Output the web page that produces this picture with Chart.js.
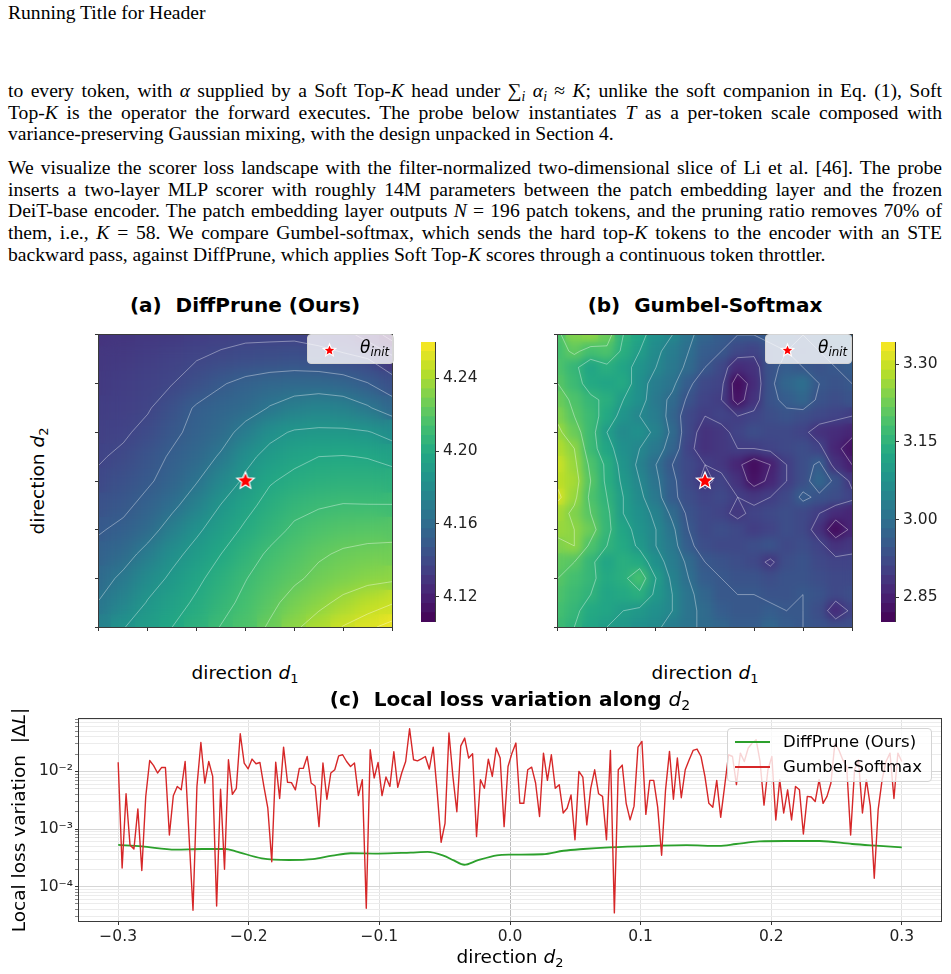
<!DOCTYPE html>
<html>
<head>
<meta charset="utf-8">
<title>Scorer loss landscape</title>
<script src="https://cdn.jsdelivr.net/npm/chart.js@4.4.1/dist/chart.umd.min.js"></script>
<style>
  body { margin: 0; background: #fff; }
  #page { position: relative; width: 951px; height: 974px; overflow: hidden; }
  .para { position: absolute; left: 8px; width: 934px; font-family: "Liberation Serif", "Times New Roman", serif; font-size: 19.6px; line-height: 21.7px; color: #000; }
  .j { text-align: justify; text-align-last: justify; }
  .sb { font-size: 70%; vertical-align: -0.28em; line-height: 0; }
  canvas { position: absolute; }
  .lbl { position: absolute; font-family: "DejaVu Sans", sans-serif; color: #000; white-space: nowrap; line-height: 22px; }
  .ttl { font-weight: bold; font-size: 20px; text-align: center; width: 440px; }
  .ttl .m { font-weight: normal; }
  .ax { font-size: 18.5px; text-align: center; width: 300px; }
  .rot { transform: translate(-50%, -50%) rotate(-90deg); }
  .leg { position: absolute; background: rgba(255,255,255,0.8); border: 1px solid #d4d4d4; border-radius: 4px; box-sizing: border-box; font-family: "DejaVu Sans", sans-serif; color: #000; }
  .leg div { position: absolute; white-space: nowrap; }
</style>
</head>
<body>
<div id="page">
  <div class="para" style="top:1.5px">Running Title for Header</div>

  <div class="para" style="top:79.8px">
    <div class="j">to every token, with <i>α</i> supplied by a Soft Top-<i>K</i> head under ∑<span class="sb"><i>i</i></span> <i>α</i><span class="sb"><i>i</i></span> ≈ <i>K</i>; unlike the soft companion in Eq. (1), Soft</div>
    <div class="j">Top-<i>K</i> is the operator the forward executes. The probe below instantiates <i>T</i> as a per-token scale composed with</div>
    <div>variance-preserving Gaussian mixing, with the design unpacked in Section 4.</div>
  </div>

  <div class="para" style="top:156.8px">
    <div class="j">We visualize the scorer loss landscape with the filter-normalized two-dimensional slice of Li et al. [46]. The probe</div>
    <div class="j">inserts a two-layer MLP scorer with roughly 14M parameters between the patch embedding layer and the frozen</div>
    <div class="j">DeiT-base encoder. The patch embedding layer outputs <i>N</i> = 196 patch tokens, and the pruning ratio removes 70% of</div>
    <div class="j">them, i.e., <i>K</i> = 58. We compare Gumbel-softmax, which sends the hard top-<i>K</i> tokens to the encoder with an STE</div>
    <div>backward pass, against DiffPrune, which applies Soft Top-<i>K</i> scores through a continuous token throttler.</div>
  </div>

  <canvas id="heatA" width="323" height="322" style="left:84px; top:320px"></canvas>
  <canvas id="barA" width="64" height="280" style="left:421px; top:342px"></canvas>
  <canvas id="heatB" width="324" height="322" style="left:543px; top:320px"></canvas>
  <canvas id="barB" width="64" height="280" style="left:881px; top:342px"></canvas>
  <canvas id="lossC" width="951" height="274" style="left:0px; top:700px"></canvas>

  <div class="lbl ttl" style="left:25px; top:294px">(a)&nbsp; DiffPrune (Ours)</div>
  <div class="lbl ttl" style="left:485px; top:294px">(b)&nbsp; Gumbel-Softmax</div>
  <div class="lbl ax" style="left:95px; top:662px">direction <i>d</i><span class="sb">1</span></div>
  <div class="lbl ax" style="left:555px; top:662px">direction <i>d</i><span class="sb">1</span></div>
  <div class="lbl ax rot" style="left:38px; top:481px">direction <i>d</i><span class="sb">2</span></div>

  <div class="leg" id="legA" style="left:307px; top:334px; width:87px; height:30px">
    <div style="left:52px; top:2px; font-size:17px"><i>θ</i><span class="sb"><i>init</i></span></div>
  </div>
  <div class="leg" id="legB" style="left:765px; top:334px; width:87px; height:30px">
    <div style="left:52px; top:2px; font-size:17px"><i>θ</i><span class="sb"><i>init</i></span></div>
  </div>

  <div class="lbl ttl" style="left:290px; top:688px">(c)&nbsp; Local loss variation along <span class="m"><i>d</i><span class="sb">2</span></span></div>
  <div class="lbl ax" style="left:360px; top:946px">direction <i>d</i><span class="sb">2</span></div>
  <div class="lbl ax rot" style="left:19px; top:820px">Local loss variation&nbsp; |Δ<i>L</i>|</div>

  <div class="leg" style="left:727px; top:728px; width:205px; height:54px">
    <div style="left:7px; top:12px; width:35px; height:2px; background:#2ca02c"></div>
    <div style="left:55px; top:2px; font-size:16.5px; line-height:22px">DiffPrune (Ours)</div>
    <div style="left:7px; top:37px; width:35px; height:2px; background:#d62728"></div>
    <div style="left:55px; top:27px; font-size:16.5px; line-height:22px">Gumbel-Softmax</div>
  </div>
</div>

<script>
// ---------------- data ----------------
// panel (c): |dL| along d2
const d2Ticks = [-0.3, -0.2, -0.1, 0, 0.1, 0.2, 0.3];
const decadeTicks = [1e-4, 1e-3, 1e-2];

const gumbelDelta = [
  0.0145, 0.00021, 0.0041, 0.00053, 0.00045, 0.00224, 0.00019, 0.00368, 0.0155, 0.0126,
  0.0094, 0.0117, 0.0117, 0.00079, 0.00378, 0.00548, 0.0048, 0.0149, 0.00074, 0.000039,
  0.00548, 0.0319, 0.00627, 0.0149, 0.0082, 0.000046, 0.0049, 0.0002, 0.016, 0.004,
  0.0051, 0.0452, 0.014, 0.0111, 0.0164, 0.0136, 0.0143, 0.0055, 0.0023, 0.00027,
  0.0145, 0.0034, 0.0265, 0.0065, 0.0064, 0.0048, 0.0113, 0.0113, 0.0182, 0.0063,
  0.0056, 0.0011, 0.014, 0.0033, 0.0094, 0.0107, 0.0187, 0.0195, 0.0149, 0.0122,
  0.014, 0.0038, 0.0072, 0.000042, 0.0238, 0.0077, 0.0143, 0.0038, 0.008, 0.0055,
  0.022, 0.0053, 0.0094, 0.0149, 0.0552, 0.016, 0.0153, 0.0166, 0.0182, 0.011,
  0.0265, 0.0045, 0.00059, 0.00126, 0.0465, 0.0082, 0.002, 0.0279, 0.038, 0.0171,
  0.0203, 0.00074, 0.0072, 0.0051, 0.0164, 0.0082, 0.0255, 0.0171, 0.0011, 0.0122,
  0.0208, 0.0311, 0.0028, 0.0028, 0.0107, 0.0119, 0.0063, 0.00165, 0.0208, 0.007,
  0.0195, 0.0051, 0.0059, 0.0019, 0.0023, 0.0039, 0.00065, 0.01, 0.008, 0.00118,
  0.0051, 0.0107, 0.0041, 0.0037, 0.00065, 0.0232, 0.000035, 0.0107, 0.0129, 0.0028,
  0.00144, 0.0025, 0.0265, 0.0333, 0.0018, 0.007, 0.007, 0.0024, 0.00035, 0.0048,
  0.0223, 0.0033, 0.0171, 0.0035, 0.0107, 0.016, 0.0232, 0.0245, 0.0182, 0.0082,
  0.0028, 0.0024, 0.007, 0.0016, 0.0055, 0.0195, 0.0182, 0.0059, 0.0208, 0.0149,
  0.0255, 0.0311, 0.0356, 0.0149, 0.0026, 0.0107, 0.0182, 0.00144, 0.0072, 0.0019,
  0.0048, 0.00144, 0.0055, 0.0048, 0.00082, 0.0037, 0.0036, 0.003, 0.0072, 0.0028,
  0.0037, 0.0063, 0.0311, 0.0238, 0.016, 0.0122, 0.00079, 0.0107, 0.016, 0.0019,
  0.0072, 0.0025, 0.00014, 0.0022, 0.0072, 0.0149, 0.0208, 0.0034, 0.0208, 0.0149
];
// samples are evenly spaced on [-0.3, 0.3]
const gumbelD2 = gumbelDelta.map((_, i) => -0.3 + 0.6 * i / (gumbelDelta.length - 1));

const diffD2 = [-0.300, -0.282, -0.256, -0.236, -0.218, -0.210, -0.190, -0.169, -0.151, -0.136,
  -0.122, -0.101, -0.076, -0.063, -0.051, -0.043, -0.035, -0.025, -0.010, 0.000,
  0.025, 0.041, 0.056, 0.076, 0.109, 0.135, 0.160, 0.173, 0.191, 0.211,
  0.237, 0.262, 0.283, 0.300];
const diffDelta = [5.3e-4, 5.0e-4, 4.4e-4, 4.5e-4, 4.5e-4, 4.1e-4, 3.1e-4, 2.9e-4, 3.0e-4, 3.45e-4,
  3.8e-4, 3.75e-4, 3.9e-4, 4.0e-4, 3.45e-4, 2.85e-4, 2.4e-4, 2.85e-4, 3.5e-4, 3.6e-4,
  3.65e-4, 4.2e-4, 4.5e-4, 4.8e-4, 5.1e-4, 5.25e-4, 5.1e-4, 5.5e-4, 6.1e-4, 6.2e-4,
  6.2e-4, 5.5e-4, 5.1e-4, 4.8e-4];

// panel (a): loss on a 13x13 grid over (d1, d2), rows from top (d2 = +1) to bottom
const diffGrid = [
  [4.129,4.130,4.131,4.132,4.134,4.135,4.136,4.136,4.136,4.134,4.130,4.121,4.108],
  [4.131,4.132,4.134,4.136,4.1377,4.140,4.142,4.143,4.144,4.143,4.141,4.1385,4.129],
  [4.132,4.134,4.136,4.1378,4.143,4.1495,4.154,4.157,4.158,4.158,4.156,4.151,4.1434],
  [4.134,4.135,4.137,4.144,4.152,4.156,4.159,4.1658,4.1717,4.175,4.1733,4.1667,4.157],
  [4.1354,4.1365,4.141,4.148,4.154,4.1595,4.170,4.1817,4.187,4.188,4.188,4.1865,4.1807],
  [4.137,4.140,4.146,4.152,4.158,4.1667,4.1817,4.190,4.195,4.198,4.1985,4.1975,4.1944],
  [4.1399,4.144,4.149,4.155,4.1642,4.1767,4.188,4.197,4.201,4.203,4.204,4.204,4.2032],
  [4.1446,4.148,4.154,4.1617,4.1733,4.186,4.1945,4.202,4.207,4.2095,4.211,4.2108,4.2108],
  [4.1495,4.153,4.159,4.1717,4.1833,4.192,4.200,4.206,4.2125,4.216,4.218,4.219,4.2191],
  [4.1541,4.159,4.170,4.1817,4.190,4.198,4.205,4.2125,4.217,4.2215,4.2245,4.226,4.2266],
  [4.1588,4.1683,4.1792,4.188,4.1955,4.203,4.210,4.2165,4.221,4.226,4.2295,4.232,4.2336],
  [4.1657,4.175,4.1865,4.193,4.200,4.2065,4.2135,4.220,4.2275,4.2325,4.2385,4.244,4.2475],
  [4.1733,4.185,4.191,4.198,4.204,4.211,4.2165,4.2245,4.2335,4.241,4.2485,4.2526,4.256]
];

// panel (b): loss on a 19x19 grid
const gumbelGrid = [
  [3.19,3.24,3.25,3.22,3.15,3.12,3.07,3.05,3.01,2.98,2.96,2.95,2.95,2.96,2.96,2.95,2.96,2.98,2.98],
  [3.18,3.21,3.18,3.19,3.14,3.10,3.06,3.03,3.00,2.96,2.95,2.92,2.91,2.94,2.95,2.94,2.95,2.96,2.98],
  [3.19,3.16,3.12,3.14,3.12,3.08,3.05,3.02,2.99,2.95,2.92,2.87,2.88,2.94,2.96,2.95,2.94,2.95,2.96],
  [3.20,3.17,3.13,3.12,3.13,3.07,3.03,3.01,2.96,2.92,2.91,2.82,2.87,2.94,2.98,3.00,2.95,2.94,2.95],
  [3.22,3.19,3.16,3.14,3.10,3.07,3.02,2.99,2.94,2.91,2.90,2.83,2.88,2.94,2.96,2.98,2.94,2.93,2.94],
  [3.24,3.20,3.17,3.13,3.08,3.05,3.03,2.98,2.92,2.90,2.91,2.90,2.91,2.93,2.94,2.93,2.92,2.91,2.90],
  [3.26,3.22,3.17,3.10,3.06,3.07,3.04,2.99,2.92,2.88,2.89,2.91,2.93,2.92,2.92,2.91,2.88,2.87,2.86],
  [3.28,3.25,3.17,3.12,3.07,3.05,3.02,2.98,2.91,2.88,2.89,2.90,2.90,2.91,2.92,2.93,2.91,2.86,2.83],
  [3.30,3.26,3.19,3.14,3.08,3.04,3.00,2.95,2.92,2.90,2.89,2.86,2.82,2.85,2.90,2.93,2.96,2.88,2.85],
  [3.29,3.27,3.20,3.14,3.09,3.05,3.01,2.96,2.92,2.89,2.91,2.88,2.83,2.86,2.90,2.93,2.98,2.94,2.89],
  [3.31,3.26,3.19,3.15,3.10,3.06,3.02,2.96,2.93,2.91,2.92,2.90,2.89,2.90,2.92,2.96,2.94,2.93,2.91],
  [3.27,3.24,3.20,3.16,3.10,3.07,3.04,2.99,2.94,2.92,2.91,2.89,2.91,2.92,2.93,2.92,2.90,2.87,2.86],
  [3.26,3.25,3.22,3.16,3.12,3.08,3.05,3.01,2.95,2.92,2.93,2.92,2.90,2.91,2.93,2.92,2.88,2.82,2.86],
  [3.24,3.25,3.19,3.15,3.13,3.09,3.05,3.02,2.96,2.93,2.92,2.92,2.93,2.94,2.92,2.93,2.91,2.88,2.89],
  [3.21,3.20,3.16,3.12,3.14,3.13,3.07,3.03,2.99,2.95,2.94,2.93,2.92,2.89,2.93,2.94,2.92,2.91,2.91],
  [3.20,3.18,3.16,3.13,3.14,3.18,3.10,3.04,3.00,2.96,2.95,2.94,2.94,2.93,2.94,2.94,2.93,2.92,2.92],
  [3.19,3.17,3.15,3.12,3.13,3.14,3.09,3.05,3.01,2.98,2.95,2.95,2.95,2.94,2.94,2.95,2.94,2.92,2.93],
  [3.18,3.16,3.13,3.12,3.10,3.09,3.07,3.05,3.01,2.99,2.96,2.95,2.95,2.96,2.95,2.95,2.93,2.87,2.91],
  [3.17,3.15,3.12,3.10,3.09,3.07,3.06,3.03,3.01,2.99,2.98,2.96,2.96,2.98,2.96,2.95,2.94,2.93,2.93]
];

const cbRangeA = [4.106, 4.260];
const cbTicksA = [4.12, 4.16, 4.20, 4.24];
const levelsA = [4.113, 4.1255, 4.138, 4.1505, 4.165, 4.1855, 4.198, 4.2105, 4.223, 4.2355, 4.248, 4.2539];
const cbRangeB = [2.802, 3.343];
const cbTicksB = [2.85, 3.00, 3.15, 3.30];
const levelsB = [2.85, 2.90, 2.95, 3.00, 3.05, 3.10, 3.15, 3.20, 3.25, 3.30];
const heatTicks = [-1, -2/3, -1/3, 0, 1/3, 2/3, 1];

// ---------------- helpers ----------------
Chart.defaults.font.family = "'DejaVu Sans', sans-serif";
Chart.defaults.color = '#222';

const VIR = [[68,1,84],[72,36,117],[65,68,135],[53,95,141],[42,120,142],[33,145,140],
             [34,168,132],[68,191,112],[122,209,81],[189,223,38],[253,231,37]];
function viridis(t) {
  t = Math.min(1, Math.max(0, t));
  const p = t * 10, k = Math.min(9, Math.floor(p)), f = p - k;
  const a = VIR[k], b = VIR[k + 1];
  return 'rgb(' + a.map((c, i) => Math.round(c + (b[i] - c) * f)).join(',') + ')';
}

function makeStar(r) {
  const s = Math.ceil(r * 2 + 4);
  const c = document.createElement('canvas');
  c.width = s; c.height = s;
  const g = c.getContext('2d');
  g.translate(s / 2, s / 2);
  g.beginPath();
  for (let k = 0; k < 10; k++) {
    const rad = k % 2 ? r * 0.45 : r;
    const ang = -Math.PI / 2 + k * Math.PI / 5;
    g.lineTo(rad * Math.cos(ang), rad * Math.sin(ang));
  }
  g.closePath();
  g.fillStyle = '#ff0000';
  g.fill();
  g.strokeStyle = '#ffffff';
  g.lineWidth = 1.2;
  g.stroke();
  return c;
}

// marching squares on grid index space
function contourSegs(grid, level) {
  const n = grid.length, segs = [];
  const cross = (a, b) => (a < level) !== (b < level);
  const f = (a, b) => (level - a) / (b - a);
  for (let j = 0; j < n - 1; j++) {
    for (let i = 0; i < n - 1; i++) {
      const a = grid[j][i], b = grid[j][i + 1], c = grid[j + 1][i + 1], d = grid[j + 1][i];
      const p = [];
      if (cross(a, b)) p.push([i + f(a, b), j]);
      if (cross(b, c)) p.push([i + 1, j + f(b, c)]);
      if (cross(d, c)) p.push([i + f(d, c), j + 1]);
      if (cross(a, d)) p.push([i, j + f(a, d)]);
      if (p.length === 2) segs.push(p);
      else if (p.length === 4) { segs.push([p[0], p[1]]); segs.push([p[2], p[3]]); }
    }
  }
  return segs;
}

const frame = {
  id: 'frame',
  afterDraw(chart) {
    const a = chart.chartArea, c = chart.ctx;
    c.save();
    c.strokeStyle = '#3a3a3a';
    c.lineWidth = 1;
    c.strokeRect(Math.round(a.left) - 0.5, Math.round(a.top) - 0.5,
                 Math.round(a.right - a.left) + 1, Math.round(a.bottom - a.top) + 1);
    c.restore();
  }
};

// no automatic label padding: the plot areas are placed by hand
const noPadX = s => { s.paddingLeft = 0; s.paddingRight = 0; };
const noPadY = s => { s.paddingTop = 0; s.paddingBottom = 0; };

// smooths the cell layer and draws the white contour lines over it
function heatFx(grid, levels, blurPx) {
  return {
    id: 'heatFx',
    afterDatasetDraw(chart, args) {
      if (args.index !== 1) return;
      const ctx = chart.ctx, a = chart.chartArea;
      const w = Math.round(a.right - a.left), h = Math.round(a.bottom - a.top);
      const off = document.createElement('canvas');
      off.width = w; off.height = h;
      off.getContext('2d').drawImage(chart.canvas, a.left, a.top, w, h, 0, 0, w, h);
      ctx.save();
      ctx.beginPath();
      ctx.rect(a.left, a.top, w, h);
      ctx.clip();
      ctx.filter = 'blur(' + blurPx + 'px)';
      ctx.drawImage(off, a.left, a.top);
      ctx.filter = 'none';
      const n = grid.length, xs = chart.scales.x, ys = chart.scales.y;
      const px = gi => xs.getPixelForValue(-1 + 2 * gi / (n - 1));
      const py = gj => ys.getPixelForValue(1 - 2 * gj / (n - 1));
      ctx.strokeStyle = 'rgba(255,255,255,0.42)';
      ctx.lineWidth = 0.9;
      ctx.beginPath();
      levels.forEach(L => contourSegs(grid, L).forEach(([p, q]) => {
        ctx.moveTo(px(p[0]), py(p[1]));
        ctx.lineTo(px(q[0]), py(q[1]));
      }));
      ctx.stroke();
      ctx.restore();
    }
  };
}

function heatChart(id, grid, range, levels, blurPx) {
  const n = grid.length;
  const pts = [];
  grid.forEach((row, j) => row.forEach((v, i) => {
    pts.push({ x: -1 + 2 * i / (n - 1), y: 1 - 2 * j / (n - 1), v: v });
  }));
  const edgeAxis = {
    type: 'linear', min: -1, max: 1,
    afterBuildTicks: s => { s.ticks = heatTicks.map(v => ({ value: v })); },
    ticks: { display: false },
    grid: { drawOnChartArea: false, drawTicks: true, tickLength: 4, color: '#333' },
    border: { display: false }
  };
  return new Chart(document.getElementById(id), {
    type: 'scatter',
    data: {
      datasets: [
        { data: [{ x: 0, y: 0 }], pointStyle: makeStar(9), pointRadius: 9, order: 0 },
        {
          data: pts, order: 1, clip: 0,
          pointStyle: 'rect', pointBorderWidth: 0,
          pointRadius: ctx => {
            const a = ctx.chart.chartArea;
            const cell = a ? Math.max(a.right - a.left, a.bottom - a.top) / (n - 1) : 20;
            return (cell / 2 + 0.6) / Math.SQRT1_2;
          },
          pointBackgroundColor: ctx => ctx.raw ? viridis((ctx.raw.v - range[0]) / (range[1] - range[0])) : '#000'
        }
      ]
    },
    options: {
      responsive: false, animation: false, events: [],
      layout: { padding: { top: 6, right: 6, left: 0, bottom: 0 } },
      plugins: { legend: { display: false }, tooltip: { enabled: false } },
      scales: {
        x: Object.assign({}, edgeAxis, { afterFit: s => { s.height = 6; noPadX(s); } }),
        y: Object.assign({}, edgeAxis, { afterFit: s => { s.width = 6; noPadY(s); } })
      }
    },
    plugins: [heatFx(grid, levels, blurPx), frame]
  });
}

function colorBar(id, range, ticks, nBands) {
  const sets = [];
  for (let k = 0; k < nBands; k++) {
    const lo = range[0] + (range[1] - range[0]) * k / nBands;
    const hi = range[0] + (range[1] - range[0]) * (k + 1) / nBands;
    sets.push({
      data: [[lo, hi]], backgroundColor: viridis((k + 0.5) / nBands),
      borderWidth: 0, barPercentage: 1, categoryPercentage: 1, grouped: false
    });
  }
  return new Chart(document.getElementById(id), {
    type: 'bar',
    data: { labels: [''], datasets: sets },
    options: {
      responsive: false, animation: false, events: [],
      layout: { padding: 0 },
      plugins: { legend: { display: false }, tooltip: { enabled: false } },
      scales: {
        x: { display: false, stacked: true },
        y: {
          position: 'right', min: range[0], max: range[1],
          afterBuildTicks: s => { s.ticks = ticks.map(v => ({ value: v })); },
          afterFit: s => { s.width = 50; noPadY(s); },
          ticks: { callback: v => v.toFixed(2), font: { size: 15.5 }, color: '#222', padding: 4 },
          grid: { drawOnChartArea: false, tickLength: 4, color: '#333' },
          border: { display: false }
        }
      }
    },
    plugins: [frame]
  });
}

// ---------------- panels (a), (b) ----------------
heatChart('heatA', diffGrid, cbRangeA, levelsA, 9);
colorBar('barA', cbRangeA, cbTicksA, 30);
heatChart('heatB', gumbelGrid, cbRangeB, levelsB, 4);
colorBar('barB', cbRangeB, cbTicksB, 30);

['legA', 'legB'].forEach(id => {
  const s = makeStar(6.5);
  s.style.left = (21 - s.width / 2) + 'px';
  s.style.top = (15 - s.height / 2) + 'px';
  document.getElementById(id).appendChild(s);
});

// ---------------- panel (c) ----------------
const SUP = { '-': '⁻', '0': '⁰', '1': '¹', '2': '²', '3': '³', '4': '⁴', '5': '⁵', '6': '⁶', '7': '⁷', '8': '⁸', '9': '⁹' };
const isDecade = v => decadeTicks.some(d => Math.abs(v / d - 1) < 1e-6);
const decadeLabel = v => '10' + String(Math.round(Math.log10(v))).split('').map(c => SUP[c]).join('');

new Chart(document.getElementById('lossC'), {
  type: 'scatter',
  data: {
    datasets: [
      {
        label: 'DiffPrune (Ours)',
        data: diffD2.map((x, i) => ({ x: x, y: diffDelta[i] })),
        showLine: true, borderColor: '#2ca02c', borderWidth: 1.8,
        pointRadius: 0, cubicInterpolationMode: 'monotone', order: 1
      },
      {
        label: 'Gumbel-Softmax',
        data: gumbelD2.map((x, i) => ({ x: x, y: gumbelDelta[i] })),
        showLine: true, borderColor: '#d62728', borderWidth: 1.4,
        pointRadius: 0, borderJoinStyle: 'round', order: 0
      }
    ]
  },
  options: {
    responsive: false, animation: false, events: [],
    layout: { padding: { top: 19, right: 10, left: 0, bottom: 0 } },
    plugins: { legend: { display: false }, tooltip: { enabled: false } },
    scales: {
      x: {
        type: 'linear', min: -0.33, max: 0.33,
        afterBuildTicks: s => { s.ticks = d2Ticks.map(v => ({ value: v })); },
        afterFit: s => { s.height = 53; noPadX(s); },
        ticks: {
          callback: v => v.toFixed(1).replace('-', '−'),
          font: { size: 15.5 }, color: '#222', padding: 3, autoSkip: false, maxRotation: 0
        },
        grid: {
          color: ctx => (ctx.tick && ctx.tick.value === 0) ? '#bcbcbc' : '#e2e2e2',
          tickColor: '#333', tickLength: 4
        },
        border: { display: false }
      },
      y: {
        type: 'logarithmic', min: 2.53e-5, max: 0.0815,
        afterBuildTicks: s => {
          const t = [];
          for (let e = -5; e <= -2; e++) {
            for (let m = 1; m < 10; m++) {
              const v = m * Math.pow(10, e);
              if (v >= s.min && v <= s.max) t.push({ value: v });
            }
          }
          s.ticks = t;
        },
        afterFit: s => { s.width = 79; noPadY(s); },
        ticks: {
          callback: v => isDecade(v) ? decadeLabel(v) : '',
          font: { size: 15.5 }, color: '#222', padding: 2, autoSkip: false
        },
        grid: {
          color: ctx => (ctx.tick && isDecade(ctx.tick.value)) ? '#d6d6d6' : '#ececec',
          tickColor: ctx => (ctx.tick && isDecade(ctx.tick.value)) ? '#333' : '#888',
          tickLength: 4
        },
        border: { display: false }
      }
    }
  },
  plugins: [frame]
});
</script>
</body>
</html>
